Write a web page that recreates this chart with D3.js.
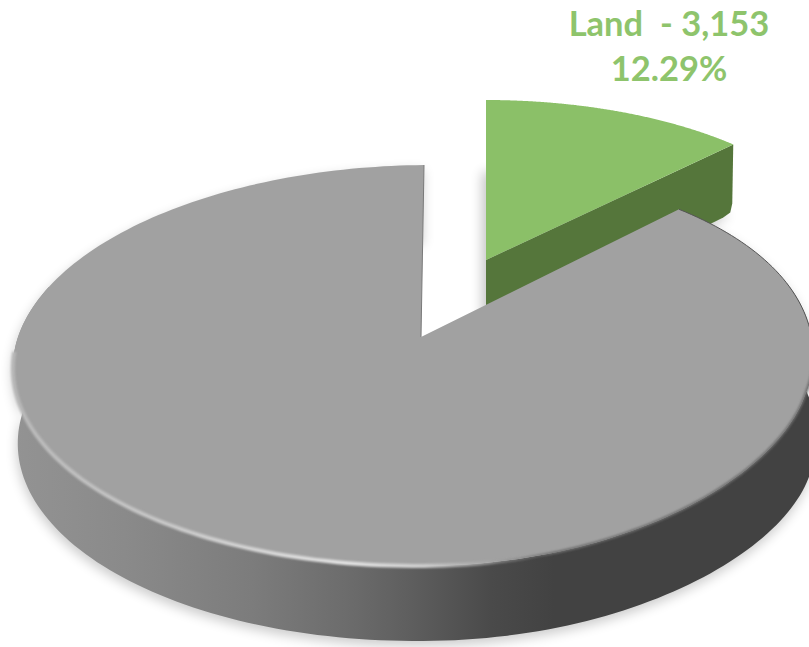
<!DOCTYPE html>
<html><head><meta charset="utf-8">
<style>html,body{margin:0;padding:0;background:#fff;overflow:hidden}svg{display:block}</style>
<script src="https://cdn.jsdelivr.net/npm/d3@7/dist/d3.min.js"></script>
</head><body><svg id="c" width="809" height="647"></svg>
<script>
const categories = ["Land", "Other"];
const seriesValues = [3153, 22502];
const labelLines = ["Land  - 3,153", "12.29%"];

const svg = d3.select("#c");
const defs = svg.append("defs");
const pie = d3.pie().sort(null).value(d => d)(seriesValues);

// perspective projections of the two exploded slices
function projector(o) {
  return a => {
    const u = Math.sin(a), v = -Math.cos(a);
    const w = 1 - o.p * v;
    const t = Math.min(1, Math.max(0, (v + 0.7)));
    const up = Math.max(u, 0);
    const x = o.x + o.A * u / w - (v < 0 ? v * o.lean : 0) - o.warpX * up * up * t;
    const y = o.y + o.B * v / w - o.warpY * up * up * Math.max(v, 0) + o.shear * Math.min(u, 0);
    return [x, y];
  };
}
const gP = projector({x:421, y:337, A:404, B:196.4, p:0.1421, lean:3, warpX:19, warpY:26, shear:-3});
const lP = projector({x:486, y:260, A:362, B:164.8, p:0.03, lean:0, warpX:0, warpY:0, shear:0});
const depth = 75;
const samples = (a0, a1) => d3.range(0, 241).map(i => a0 + (a1 - a0) * i / 240);
const line = d3.line();
const drop = a => {
  const pt = gP(a), up = Math.max(Math.sin(a), 0);
  return [421 + (pt[0] - 421) * 0.988 + 9 * up * up, pt[1] + depth + 9 * up * up];
};

const [land, other] = pie;
const gAngles = samples(other.startAngle, other.endAngle);
const gArc = gAngles.map(gP);
const lArc = samples(land.startAngle, land.endAngle).map(lP);
const gApex = [421, 337], lApex = [486, 260];
const gTop = line([gApex, ...gArc]) + "Z";
const lTop = line([lApex, ...lArc]) + "Z";
const sideAngles = gAngles.filter(a => -Math.cos(a) > -0.3);
const gSide = line([...sideAngles.map(gP), ...sideAngles.map(drop).reverse()]) + "Z";
const frontArc = gAngles.filter(a => -Math.cos(a) > 0.05).map(gP);
const backRight = gAngles.filter(a => Math.sin(a) > 0 && -Math.cos(a) <= 0.1).map(gP);

// defs
const f1 = defs.append("filter").attr("id","soft").attr("x","-10%").attr("y","-10%").attr("width","120%").attr("height","120%");
f1.append("feGaussianBlur").attr("stdDeviation", 6);
const f2 = defs.append("filter").attr("id","soft2").attr("filterUnits","userSpaceOnUse").attr("x",0).attr("y",0).attr("width",809).attr("height",647);
f2.append("feGaussianBlur").attr("stdDeviation", 1.3);

const grad = (id, x1, x2, stops) => {
  const g = defs.append("linearGradient").attr("id", id).attr("gradientUnits","userSpaceOnUse")
    .attr("x1", x1).attr("x2", x2).attr("y1", 0).attr("y2", 0);
  stops.forEach(s => g.append("stop").attr("offset", s[0]).attr("stop-color", s[1]).attr("stop-opacity", s[2] === undefined ? 1 : s[2]));
};
grad("side", 13, 809, [[0,"#939393"],[0.14,"#8a8a8a"],[0.3,"#7c7c7c"],[0.42,"#6c6c6c"],[0.5,"#5e5e5e"],[0.6,"#4a4a4a"],[0.68,"#424242"],[1,"#424242"]]);
grad("rim", 13, 809, [[0,"#b8b8b8"],[0.2,"#c8c8c8"],[0.42,"#e2e2e2"],[0.52,"#cccccc"],[0.6,"#a8a8a8",0.7],[0.66,"#a0a0a0",0],[1,"#a0a0a0",0]]);
grad("rimDark", 13, 809, [[0,"#6e6e6e",0],[0.6,"#6e6e6e",0],[0.68,"#6e6e6e",1],[1,"#6e6e6e",1]]);

// shadows
svg.append("path").attr("d", line([...gArc, ...gAngles.map(drop).reverse()]) + "Z").attr("fill","#000").attr("opacity",0.2)
  .attr("filter","url(#soft)").attr("transform","translate(-1,5)");
svg.append("path").attr("d", line([lApex, ...lArc].map(p => [p[0]-4, p[1]+72]))+"Z").attr("fill","#000").attr("opacity",0.22)
  .attr("filter","url(#soft)");

// land slice
const corner = lArc[lArc.length - 1];
const lSide = line([lApex, corner, [corner[0]-1, corner[1]+depth-16], [corner[0]-3, corner[1]+depth-7], [corner[0]-10, corner[1]+depth-2], [lApex[0], lApex[1]+depth]]) + "Z";
svg.append("path").attr("d", lSide).attr("fill","#55763b");
svg.append("path").attr("d", lTop).attr("fill","#8bc068");

// other slice
svg.append("path").attr("d", gSide).attr("fill","url(#side)");
svg.append("path").attr("d", gTop).attr("fill","#a1a1a1");
svg.append("path").attr("d", line(frontArc)).attr("fill","none").attr("stroke","url(#rim)").attr("stroke-width",4).attr("filter","url(#soft2)");
svg.append("path").attr("d", line(frontArc)).attr("fill","none").attr("stroke","url(#rimDark)").attr("stroke-width",2.5).attr("filter","url(#soft2)");
svg.append("path").attr("d", line(backRight)).attr("fill","none").attr("stroke","#555").attr("stroke-width",1);
svg.append("path").attr("d", line([gArc[gArc.length-1], gApex])).attr("fill","none").attr("stroke","#7a7a7a").attr("stroke-width",1);

// label
svg.append("g").selectAll("text").data(labelLines).join("text")
  .attr("x", 669).attr("y", (d,i) => 36 + i * 45)
  .attr("text-anchor","middle")
  .attr("font-family","Lato, 'Open Sans', sans-serif").attr("font-weight",700).attr("font-size",34.5)
  .attr("fill","#8ec46c").style("white-space","pre").text(d => d);
</script></body></html>
